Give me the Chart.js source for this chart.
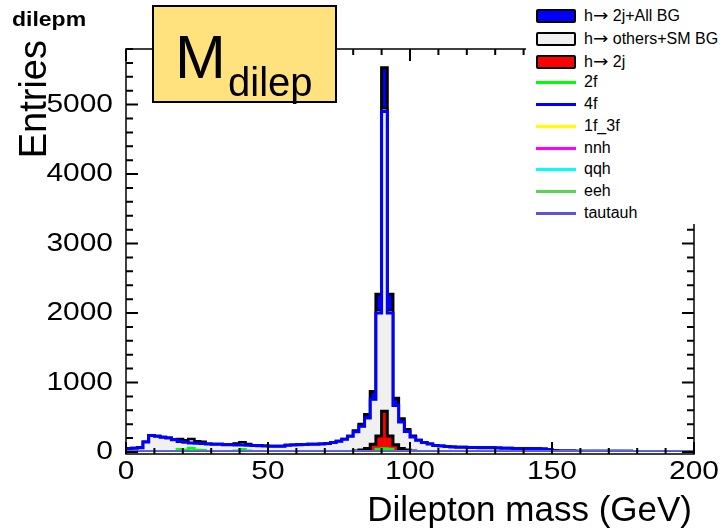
<!DOCTYPE html>
<html>
<head>
<meta charset="utf-8">
<script src="https://cdn.jsdelivr.net/npm/chart.js@4.4.1/dist/chart.umd.min.js"></script>
<style>
body { margin: 0; background: #fff; }
#wrap { position: relative; width: 722px; height: 532px; overflow: hidden; font-family: 'Liberation Sans', Arial, sans-serif; }
#chart-1 { position: absolute; left: 0; top: 0; }
#hname { position: absolute; left: 12px; top: 8px; font-weight: bold; font-size: 20px; transform: scaleX(1.15); transform-origin: left top; }
#tbox { position: absolute; left: 152px; top: 5px; width: 181px; height: 94px; background: #ffe17d; border: 2px solid #000; }
#tbox .m { position: absolute; left: 21px; top: 20px; font-size: 61px; line-height: 61px; }
#tbox .sub { position: absolute; left: 74px; top: 55px; font-size: 40px; line-height: 40px; }
#leg { position: absolute; left: 526px; top: 0; width: 196px; height: 224px; background: #fff; }
.item { position: absolute; left: 0; height: 22px; width: 196px; }
.sym { position: absolute; left: 10px; width: 40px; }
.txt { position: absolute; left: 58px; font-size: 16px; line-height: 22px; top: 0; white-space: nowrap; }
.arr { font-family: 'DejaVu Sans', sans-serif; font-size: 16px; display: inline-block; transform: scaleX(1.15); transform-origin: left center; margin-right: 2px; }
</style>
</head>
<body>
<div id="wrap">
  <canvas id="chart-1" width="722" height="532"></canvas>
  <div id="hname">dilepm</div>
  <div id="tbox"><span class="m">M</span><span class="sub">dilep</span></div>
  <div id="leg"></div>
</div>
<script>
// histogram binning: 100 bins of 2 GeV from 0 to 200
const xMin = 0, xMax = 200, binWidth = 2;

// 4f background (blue line)
const f4 = [
  50, 55, 60, 143, 238, 225, 214, 200, 178, 150,
  140, 130, 127, 124, 116, 113, 110, 106, 104, 102,
  100, 97, 92, 90, 88, 84, 82, 84, 96, 102,
  106, 108, 110, 112, 115, 122, 135, 155, 185, 225,
  290, 370, 490, 760, 2000, 4900, 2000, 670, 430, 295,
  215, 170, 138, 115, 95, 85, 78, 72, 70, 68,
  64, 63, 62, 61, 60, 58, 55, 54, 52, 51,
  50, 48, 46, 44, 35, 20, 14, 13, 13, 12,
  12, 11, 11, 10, 10, 10, 9, 9, 9, 8,
  8, 8, 7, 7, 7, 7, 6, 6, 6, 6
];
// 2f background (green line)
const f2 = [
  0, 0, 0, 0, 0, 0, 0, 0, 0, 35,
  25, 55, 25, 20, 0, 0, 0, 0, 0, 15,
  35, 15, 0, 0, 0, 0, 0, 0, 0, 0,
  0, 0, 0, 0, 0, 0, 0, 0, 0, 0,
  0, 0, 0, 0, 40, 45, 40, 0, 0, 0,
  0, 0, 0, 0, 0, 0, 0, 0, 0, 0,
  0, 0, 0, 0, 0, 0, 0, 0, 0, 0,
  0, 0, 0, 0, 0, 0, 0, 0, 0, 0,
  0, 0, 0, 0, 0, 0, 0, 0, 0, 0,
  0, 0, 0, 0, 0, 0, 0, 0, 0, 0
];
// h -> 2j signal (red)
const sig = [
  0, 0, 0, 0, 0, 0, 0, 0, 0, 0,
  0, 0, 0, 0, 0, 0, 0, 0, 0, 0,
  0, 0, 0, 0, 0, 0, 0, 0, 0, 0,
  0, 0, 0, 0, 0, 0, 0, 0, 0, 0,
  15, 30, 50, 110, 230, 585, 230, 105, 50, 30,
  15, 0, 0, 0, 0, 0, 0, 0, 0, 0,
  0, 0, 0, 0, 0, 0, 0, 0, 0, 0,
  0, 0, 0, 0, 0, 0, 0, 0, 0, 0,
  0, 0, 0, 0, 0, 0, 0, 0, 0, 0,
  0, 0, 0, 0, 0, 0, 0, 0, 0, 0
];
// empty contributions
const zero = new Array(100).fill(0);
const f1f3 = zero, nnh = zero, qqh = zero, eeh = zero, tautauh = zero;

const yTicks = [0, 1000, 2000, 3000, 4000, 5000];
const xTicks = [0, 50, 100, 150, 200];

// stacked sums (others + SM BG, and with the signal on top)
const bg = f4.map((v, i) => v + f2[i] + f1f3[i] + nnh[i] + qqh[i] + eeh[i] + tautauh[i]);
const total = bg.map((v, i) => v + sig[i]);

function hist(vals) {
  const pts = vals.map((v, i) => ({ x: xMin + i * binWidth, y: v }));
  pts.push({ x: xMax, y: vals[vals.length - 1] });
  return pts;
}

const series = [
  { label: '2j+All BG', arrow: true, data: total, fill: '#0000ff', line: '#000000', w: 3, box: true },
  { label: 'others+SM BG', arrow: true, data: bg, fill: '#f0f0f0', line: '#000000', w: 2, box: true },
  { label: '2j', arrow: true, data: sig, fill: '#ff0000', line: '#000000', w: 3, box: true },
  { label: '2f', data: f2, line: '#00ff00', w: 3 },
  { label: '4f', data: f4, line: '#0000ff', w: 3 },
  { label: '1f_3f', data: f1f3, line: '#ffff00', w: 3 },
  { label: 'nnh', data: nnh, line: '#ff00ff', w: 3 },
  { label: 'qqh', data: qqh, line: '#00ffff', w: 3 },
  { label: 'eeh', data: eeh, line: '#59d454', w: 3 },
  { label: 'tautauh', data: tautauh, line: '#5954d9', w: 3.5 }
];

function txt(ctx, s, x, y, size, align, sx) {
  ctx.save();
  ctx.translate(x, y);
  ctx.scale(sx, 1);
  ctx.font = size + 'px "Liberation Sans", Arial, sans-serif';
  ctx.textAlign = align;
  ctx.textBaseline = 'middle';
  ctx.fillText(s, 0, 0);
  ctx.restore();
}

const rootAxes = {
  id: 'rootAxes',
  afterDatasetsDraw(chart) {
    const { ctx, chartArea: a, scales: { x, y } } = chart;
    const L = a.left, R = a.right, T = a.top, B = a.bottom + 2;
    ctx.save();
    ctx.strokeStyle = '#000';
    ctx.fillStyle = '#000';
    ctx.lineWidth = 1.5;
    ctx.beginPath();
    ctx.moveTo(L, T); ctx.lineTo(R, T); ctx.lineTo(R, B); ctx.lineTo(L, B); ctx.closePath();
    ctx.stroke();
    ctx.lineWidth = 2;
    ctx.beginPath();
    for (let v = 0; v <= y.max; v += 200) {
      const py = y.getPixelForValue(v);
      const len = v % 1000 === 0 ? 12 : 7;
      ctx.moveTo(L, py); ctx.lineTo(L + len, py);
      ctx.moveTo(R, py); ctx.lineTo(R - len, py);
    }
    for (let v = x.min; v <= x.max; v += 10) {
      const px = x.getPixelForValue(v);
      const len = v % 50 === 0 ? 12 : 6;
      ctx.moveTo(px, B); ctx.lineTo(px, B - len);
      ctx.moveTo(px, T); ctx.lineTo(px, T + len);
    }
    ctx.stroke();
    yTicks.forEach(v => txt(ctx, String(v), 113, y.getPixelForValue(v), 26, 'right', 1.15));
    xTicks.forEach(v => txt(ctx, String(v), x.getPixelForValue(v), 472, 26, 'center', 1.15));
    txt(ctx, 'Dilepton mass (GeV)', R - 2, 511, 35, 'right', 1.0);
    ctx.save();
    ctx.translate(36, 40);
    ctx.rotate(-Math.PI / 2);
    txt(ctx, 'Entries', 0, 0, 38, 'right', 1.0);
    ctx.restore();
    ctx.restore();
  }
};

const ctx = document.getElementById('chart-1').getContext('2d');
const myChart = new Chart(ctx, {
  type: 'line',
  data: {
    datasets: series.map((s, i) => ({
      label: (s.arrow ? 'h\u2192 ' : '') + s.label,
      data: hist(s.data),
      stepped: true,
      borderColor: s.line,
      borderWidth: s.w,
      backgroundColor: s.fill || 'transparent',
      fill: s.fill ? 'origin' : false,
      pointRadius: 0,
      order: series.length - i
    }))
  },
  options: {
    responsive: false,
    animation: false,
    devicePixelRatio: 1,
    layout: { padding: { left: 126, right: 28, top: 49, bottom: 80 } },
    scales: {
      x: { type: 'linear', min: xMin, max: xMax, display: false },
      y: { type: 'linear', min: 0, max: 5800, display: false }
    },
    plugins: { legend: { display: false }, tooltip: { enabled: false } }
  },
  plugins: [rootAxes]
});

// legend in ROOT style
const leg = document.getElementById('leg');
const rowY = [16, 39, 62, 82, 104, 126, 148, 169, 191, 213];
series.forEach((s, i) => {
  const it = document.createElement('div');
  it.className = 'item';
  it.style.top = (rowY[i] - 11) + 'px';
  const sym = document.createElement('div');
  sym.className = 'sym';
  if (s.box) {
    sym.style.cssText = 'top:4px;height:10px;background:' + s.fill + ';border:2px solid #000;border-radius:2px;width:36px;';
  } else {
    sym.style.cssText = 'top:10px;height:3px;background:' + s.line + ';';
  }
  const t = document.createElement('div');
  t.className = 'txt';
  if (s.arrow) {
    t.appendChild(document.createTextNode('h'));
    const a = document.createElement('span');
    a.className = 'arr';
    a.textContent = '\u2192';
    t.appendChild(a);
    t.appendChild(document.createTextNode(' ' + s.label));
  } else {
    t.textContent = s.label;
  }
  it.appendChild(sym);
  it.appendChild(t);
  leg.appendChild(it);
});
</script>
</body>
</html>
